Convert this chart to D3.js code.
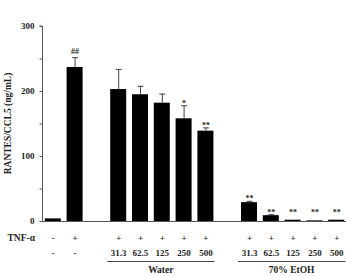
<!DOCTYPE html>
<html><head><meta charset="utf-8">
<script src="https://cdn.jsdelivr.net/npm/d3@7"></script>
<style>body{margin:0;background:#fff}svg{display:block}</style>
</head><body>
<script>
const slots  = [0, 1, 3, 4, 5, 6, 7, 9, 10, 11, 12, 13];
const values = [4, 237, 203, 195, 182, 158, 139, 29, 9, 2, 1, 2];
const errors = [0, 15, 31, 13, 14, 20, 5, 2, 1.5, 0.5, 0.5, 0.5];
const tnf    = ["-", "+", "+", "+", "+", "+", "+", "+", "+", "+", "+", "+"];
const doses  = ["-", "-", "31.3", "62.5", "125", "250", "500", "31.3", "62.5", "125", "250", "500"];
const sig    = ["", "##", "", "", "", "*", "**", "**", "**", "**", "**", "**"];
const yTicks = [0, 100, 200, 300];
const yMinor = [50, 150, 250];
const groupNames = ["Water", "70% EtOH"];
const groupSlots = [[3, 7], [9, 13]];

const W = 346, H = 277;
const svg = d3.select("body").append("svg").attr("width", W).attr("height", H);
const font = "'Liberation Serif','Times New Roman',serif";

const y = d3.scaleLinear().domain([0, 300]).range([221, 26]);
const x = d3.scaleBand().domain(d3.range(14)).range([42, 347]).paddingInner(0.266).paddingOuter(0.128);

const axisCol = "#555";
// y axis
const yAxis = d3.axisLeft(y).tickValues(yTicks).tickSize(3).tickPadding(5).tickFormat(d3.format("d"));
const ga = svg.append("g").attr("transform", "translate(42.5,0)").call(yAxis);
ga.select(".domain").attr("stroke", axisCol).attr("d", `M-3,${y(300)}H0V${y(0)}`);
ga.selectAll(".tick line").attr("stroke", axisCol);
ga.selectAll(".tick text").attr("font-family", font).attr("font-weight", "bold").attr("font-size", 9).attr("fill", "#222");
svg.append("g").selectAll("line").data(yMinor).join("line")
  .attr("x1", 39.5).attr("x2", 42.5).attr("y1", d => y(d) + 0.5).attr("y2", d => y(d) + 0.5).attr("stroke", axisCol);

// x baseline
svg.append("line").attr("x1", 42).attr("x2", 346).attr("y1", y(0) + 0.5).attr("y2", y(0) + 0.5).attr("stroke", axisCol);

// bars
svg.append("g").selectAll("rect").data(values).join("rect")
  .attr("x", (d, i) => x(slots[i])).attr("width", x.bandwidth())
  .attr("y", d => y(d)).attr("height", d => y(0) - y(d)).attr("fill", "#000");

// error bars
const eg = svg.append("g").attr("stroke", "#444").attr("stroke-width", 1);
values.forEach((v, i) => {
  if (errors[i] < 1) return;
  const cx = x(slots[i]) + x.bandwidth() / 2 + 0.5;
  eg.append("line").attr("x1", cx).attr("x2", cx).attr("y1", y(v)).attr("y2", y(v + errors[i]));
  eg.append("line").attr("x1", cx - 3).attr("x2", cx + 3).attr("y1", y(v + errors[i]) + 0.5).attr("y2", y(v + errors[i]) + 0.5);
});

// significance
svg.append("g").selectAll("text").data(sig).join("text")
  .attr("x", (d, i) => x(slots[i]) + x.bandwidth() / 2 + 0.5)
  .attr("y", (d, i) => {
    const t = y(values[i] + errors[i]);
    if (d === "##") return t - 3;
    return Math.min(t + 0.5, y(0) - 6);
  })
  .attr("text-anchor", "middle").attr("font-family", font).attr("font-weight", "bold")
  .attr("font-size", 8).attr("fill", "#222").text(d => d);

// x rows
svg.append("text").attr("x", 35).attr("y", 241).attr("text-anchor", "end")
  .attr("font-family", font).attr("font-weight", "bold").attr("font-size", 9.5).attr("fill", "#222").text("TNF-α");
svg.append("g").selectAll("text").data(tnf).join("text")
  .attr("x", (d, i) => x(slots[i]) + x.bandwidth() / 2 + 0.5).attr("y", 241)
  .attr("text-anchor", "middle").attr("font-family", font).attr("font-weight", "bold")
  .attr("font-size", 9).attr("fill", "#222").text(d => d);
svg.append("g").selectAll("text").data(doses).join("text")
  .attr("x", (d, i) => x(slots[i]) + x.bandwidth() / 2 + 0.5).attr("y", 256)
  .attr("text-anchor", "middle").attr("font-family", font).attr("font-weight", "bold")
  .attr("font-size", 9).attr("fill", "#222").text(d => d);

// group lines + names
groupNames.forEach((g, k) => {
  const x0 = x(groupSlots[k][0]) - 3, x1 = x(groupSlots[k][1]) + x.bandwidth() + 1;
  svg.append("line").attr("x1", x0).attr("x2", x1).attr("y1", 261.5).attr("y2", 261.5).attr("stroke", "#444");
  svg.append("text").attr("x", (x0 + x1) / 2).attr("y", 273).attr("text-anchor", "middle")
    .attr("font-family", font).attr("font-weight", "bold").attr("font-size", 9.5).attr("fill", "#222").text(g);
});

// y label
svg.append("text").attr("transform", `translate(11,${y(150)}) rotate(-90)`).attr("text-anchor", "middle")
  .attr("font-family", font).attr("font-weight", "bold").attr("font-size", 9.5).attr("fill", "#222")
  .text("RANTES/CCL5 (ng/mL)");
</script>
</body></html>
